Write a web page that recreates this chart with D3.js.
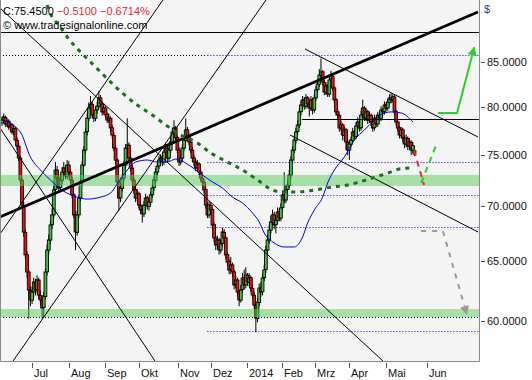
<!DOCTYPE html>
<html>
<head>
<meta charset="utf-8">
<script src="https://cdn.jsdelivr.net/npm/d3@7"></script>
<style>
  body { margin: 0; background: #fff; }
  svg { display: block; }
  text { font-family: "Liberation Sans", Arial, sans-serif; font-size: 11px; }
</style>
</head>
<body>
<svg id="chart" width="532" height="380"></svg>
<script>
// daily candles, bar index 0 .. 247 (Jun 2013 - May 2014)
const opens = [
  78.3,78.6,78.9,78.2,78.5,77.9,78.1,77.4,77.7,76.5, 75.9,74.7,72.5,70.1,67.6,65.6,64.1,62.5,61.7,62.4,
  63.2,62.6,63.4,62.1,61.7,61.1,62.0,64.1,66.0,66.9, 68.3,69.2,71.6,73.5,72.7,71.8,72.5,73.3,73.7,72.9,
  74.0,73.3,72.5,71.1,69.2,67.6,69.2,70.8,72.3,74.0, 75.5,77.4,78.8,79.9,80.3,79.2,78.8,79.7,80.1,81.0,
  80.3,79.5,79.9,79.2,78.6,78.8,77.8,77.0,75.7,74.5, 72.3,70.8,71.7,72.7,74.0,75.7,76.0,74.7,73.7,72.5,
  71.6,70.8,71.2,70.1,69.7,69.3,70.1,70.8,70.0,70.4, 71.1,71.8,72.5,73.3,73.9,74.5,74.7,74.3,75.3,75.7,
  74.7,75.5,76.3,77.4,77.8,76.8,75.5,74.3,74.7,75.7, 76.5,77.6,77.0,76.3,75.5,74.7,74.3,73.7,74.1,73.3,
  72.7,72.3,71.6,70.1,69.2,70.1,69.7,68.3,67.1,66.5, 66.9,66.0,66.6,67.6,67.1,65.6,65.0,64.3,64.7,64.1,
  63.0,63.4,62.4,61.7,62.6,63.6,63.0,63.8,63.2,63.6, 62.7,62.1,61.3,60.2,61.5,62.7,62.4,63.6,64.3,66.0,
  66.9,67.8,68.5,69.2,68.3,68.7,69.5,68.9,69.9,71.1, 70.6,71.6,72.0,73.0,74.5,75.5,76.5,77.4,78.1,79.5,
  80.2,80.8,80.1,81.0,80.3,79.9,80.8,79.7,81.0,81.9, 82.5,83.5,83.9,82.7,81.6,82.3,81.4,83.0,83.4,82.1,
  80.8,79.5,79.1,77.8,78.1,77.0,77.6,76.3,75.5,76.1, 76.5,77.4,76.9,78.0,78.4,77.8,79.2,79.9,78.8,79.5,
  78.6,79.1,78.4,77.8,78.8,78.2,79.1,78.8,79.7,79.5, 80.2,79.9,80.5,81.0,80.8,81.1,79.5,78.4,77.8,77.0,
  77.6,76.7,76.1,76.7,75.9,76.3,75.5,75.1
];
const highs = [
  79.0,79.3,79.1,78.8,78.7,78.4,78.3,78.0,77.9,76.8, 76.2,74.9,72.7,70.4,67.9,65.9,64.3,62.9,62.8,63.6,
  63.5,63.8,63.6,62.5,62.0,62.4,64.4,66.5,67.4,68.7, 69.8,72.0,74.3,73.9,73.0,73.0,73.8,74.3,74.0,74.5,
  74.4,73.6,72.8,71.3,69.5,69.6,71.1,72.7,74.4,75.9, 77.8,79.3,80.5,81.2,80.6,79.5,80.1,80.6,81.7,81.3,
  80.6,80.3,80.1,79.4,79.3,79.0,78.1,77.3,76.0,74.7, 72.6,72.1,73.1,74.4,76.1,78.8,76.3,75.0,74.0,72.8,
  71.9,71.6,71.4,70.4,70.0,70.5,71.2,71.0,70.8,71.4, 72.1,72.9,73.7,74.3,74.9,75.1,75.0,75.7,76.2,76.0,
  75.9,76.8,77.8,78.6,78.0,77.0,75.8,75.1,76.1,76.9, 78.8,77.9,77.2,76.6,75.8,75.0,74.6,74.5,74.3,73.6,
  73.0,72.6,71.8,70.4,70.5,70.4,69.9,68.5,67.3,67.3, 67.1,67.0,68.0,67.9,67.3,65.8,65.2,65.4,64.9,64.3,
  63.8,63.6,62.6,63.0,64.0,64.3,64.5,64.0,64.0,63.8, 63.0,62.4,61.5,61.9,63.1,63.2,64.0,64.7,66.4,67.4,
  68.3,69.1,69.7,69.5,69.2,69.9,69.8,70.3,71.5,73.3, 72.0,72.5,73.5,74.9,75.9,77.0,77.8,78.6,79.9,80.7,
  81.2,81.1,81.4,81.2,80.6,81.2,81.0,81.4,82.3,83.0, 84.2,85.4,84.1,83.0,82.7,82.5,83.4,84.0,83.6,82.3,
  81.0,79.8,79.3,78.5,78.3,77.9,77.8,76.6,76.5,76.9, 77.8,77.6,78.4,78.9,78.6,79.6,80.8,80.1,79.9,79.7,
  79.5,79.3,78.6,79.2,79.0,79.5,79.4,80.1,79.9,80.6, 80.5,80.9,81.4,81.5,81.4,81.3,79.7,78.6,78.0,77.9,
  77.8,77.0,77.1,76.9,76.7,76.5,76.3,75.9
];
const lows = [
  78.0,78.3,77.9,77.9,77.6,77.5,77.1,77.0,76.3,75.5, 74.4,72.2,69.8,67.2,65.2,63.6,60.2,61.2,61.4,62.0,
  62.1,62.3,61.8,61.3,60.2,60.3,61.8,63.8,65.6,66.5, 67.9,68.9,71.3,72.2,71.3,71.5,72.2,73.0,72.6,72.6,
  73.0,72.2,70.8,68.9,66.0,67.3,68.9,70.5,72.0,73.8, 75.2,77.0,78.5,79.6,78.8,78.4,78.5,79.3,79.8,80.0,
  79.1,79.2,78.8,78.3,78.3,77.4,76.7,75.4,74.1,72.0, 69.6,70.4,71.4,72.4,73.7,75.3,74.3,73.4,72.2,71.2,
  70.4,70.5,69.8,69.3,68.5,69.0,69.8,69.7,69.6,70.1, 70.8,71.5,72.2,73.0,73.6,74.1,73.9,74.0,75.0,74.3,
  74.4,75.2,76.0,77.0,76.4,75.2,73.9,74.0,74.4,75.4, 76.2,76.6,76.0,75.2,74.3,73.9,73.4,73.4,73.0,72.4,
  72.0,71.2,69.8,68.9,68.9,69.3,67.9,66.7,66.0,66.1, 65.6,65.7,66.3,66.7,65.2,64.6,63.9,63.9,63.7,62.6,
  62.7,62.0,61.2,61.5,62.3,62.6,62.7,62.9,62.9,62.4, 61.8,61.0,59.1,59.9,61.2,62.0,62.1,63.3,64.0,65.7,
  66.6,67.5,68.2,67.9,67.5,68.4,68.6,68.6,69.6,70.3, 70.3,71.2,71.7,72.7,74.2,75.2,76.2,77.0,77.8,79.1,
  79.9,79.7,79.8,80.0,79.0,79.6,79.2,79.4,80.7,81.6, 82.2,83.1,82.4,81.3,81.3,81.1,81.1,82.7,81.8,80.4,
  79.1,78.7,77.4,77.5,76.5,76.4,75.5,75.0,74.5,75.8, 76.2,76.6,76.6,77.7,77.4,77.5,78.9,78.5,78.5,78.2,
  78.3,78.0,77.4,77.5,77.9,77.9,78.5,78.5,79.1,79.2, 79.6,79.6,80.2,80.4,80.5,79.1,78.0,77.4,76.7,76.7,
  76.3,75.7,75.8,75.5,75.6,75.0,75.2,74.9
];
const closes = [
  78.62,78.94,78.20,78.52,77.89,78.10,77.36,77.68,76.54,75.92, 74.70,72.53,70.13,67.63,65.57,64.09,62.55,61.72,62.38,63.23,
  62.55,63.40,62.13,61.72,61.06,62.05,64.09,66.01,66.91,68.27, 69.20,71.56,73.51,72.73,71.75,72.53,73.31,73.71,72.92,74.00,
  73.31,72.53,71.08,69.20,67.63,69.20,70.79,72.34,74.00,75.51, 77.36,78.83,79.90,80.33,79.15,78.83,79.69,80.12,80.99,80.33,
  79.48,79.90,79.15,78.62,78.83,77.78,77.05,75.71,74.50,72.34, 70.79,71.75,72.73,74.00,75.71,76.03,74.70,73.71,72.53,71.56,
  70.79,71.18,70.13,69.66,69.29,70.13,70.79,70.04,70.41,71.08, 71.75,72.53,73.31,73.90,74.50,74.70,74.30,75.31,75.71,74.70,
  75.51,76.34,77.36,77.78,76.75,75.51,74.30,74.70,75.71,76.54, 77.57,76.95,76.34,75.51,74.70,74.30,73.71,74.10,73.31,72.73,
  72.34,71.56,70.13,69.20,70.13,69.66,68.27,67.09,66.46,66.91, 66.01,66.55,67.63,67.09,65.57,64.95,64.26,64.69,64.09,62.98,
  63.40,62.38,61.72,62.55,63.57,62.98,63.83,63.23,63.57,62.72, 62.13,61.30,60.24,61.55,62.72,62.38,63.57,64.26,66.01,66.91,
  67.81,68.55,69.20,68.27,68.73,69.47,68.91,69.85,71.08,70.60, 71.56,72.04,73.02,74.50,75.51,76.54,77.36,78.10,79.48,80.23,
  80.77,80.12,80.99,80.33,79.90,80.77,79.69,80.99,81.86,82.53, 83.53,83.86,82.75,81.64,82.31,81.42,82.97,83.42,82.08,80.77,
  79.48,79.15,77.78,78.10,77.05,77.57,76.34,75.51,76.13,76.54, 77.36,76.95,77.99,78.41,77.78,79.15,79.90,78.83,79.48,78.62,
  79.15,78.41,77.78,78.83,78.20,79.15,78.83,79.69,79.48,80.23, 79.90,80.55,80.99,80.77,81.10,79.48,78.41,77.78,77.05,77.57,
  76.75,76.13,76.75,75.92,76.34,75.51,75.96,75.45
];

// moving averages: [bar, price]
const fastAvg = [
  [0,78.62],[11,77.36],[17,74.80],[23,73.51],[29,72.53],[35,71.65],[43,70.98],[51,70.69],[59,70.88],
  [65,71.27],[69,72.14],[75,73.51],[80,74.30],[87,74.50],[93,74.30],[99,74.30],[104,74.60],[110,74.20],
  [116,73.51],[120,73.02],[126,72.34],[132,71.75],[138,70.88],[144,70.32],[150,69.38],[154,68.55],
  [157,67.54],[163,66.64],[169,66.28],[175,66.28],[180,67.18],[183,68.45],[187,69.66],[192,70.88],
  [195,72.24],[199,73.51],[205,74.80],[211,76.54],[217,77.57],[223,78.62],[229,79.37],[233,79.48],
  [239,79.37],[246,78.41]
];
const slowAvg = [
  [27,91.77],[30,90.31],[34,89.34],[40,87.67],[47,86.15],[56,84.43],[65,82.75],[72,81.53],[81,80.23],
  [90,79.15],[98,78.10],[107,77.05],[117,76.23],[125,75.21],[135,74.30],[144,73.51],[153,72.53],
  [162,71.56],[168,71.37],[177,71.37],[187,71.56],[198,71.85],[207,72.04],[214,72.34],[222,72.73],
  [231,73.21],[238,73.61],[244,73.71]
];

// drawing tools: [bar, price] end points
const mainTrend = [[-1.2,69.01],[285,90.92]];
const thinLines = [
  [[-1.2,77.78],[91.6,56.86]],
  [[-1.2,67.45],[96.4,92.40]],
  [[6.6,56.86],[158.1,92.40]],
  [[-1.2,91.40],[228.1,56.86]],
  [[181.4,86.50],[285,76.85]],
  [[172.5,77.05],[285,67.63]]
];
const solidLevels = [[88.50,-1.2],[78.72,179.6]];   // [price, start bar]
const fibLevels = [85.80,74.30,71.08,68.09,59.22];
const fibStart = 123;
const dottedLevels = [[85.80,-1.2],[60.32,-1.2]];
const zones = [[71.95,73.02],[60.32,60.97]];

// projections after the last bar
const redPath = [[246.7,75.50],[252.7,72.04]];
const upDashed = [[251,72.24],[260.5,76.23]];
const upSolid = [[261,79.37],[272.5,79.37],[282.8,86.70]];
const downPath = [[251,67.72],[264,67.72],[278.3,60.55]];

const monthLabels = ["Jul","Aug","Sep","Okt","Nov","Dez","2014","Feb","Mrz","Apr","Mai","Jun"];
const monthBars = [18.0,40.1,61.7,82.0,105.4,125.1,146.7,167.7,187.4,207.8,230.0,254.5];
const priceTicks = [60,65,70,75,80,85];

const lastClose = 75.45, change = -0.51, changePct = -0.6714;

const svg = d3.select("#chart");
const plotL = 1, plotR = 479, plotB = 361;
const x = d3.scaleLinear().domain([0, 247]).range([2, 414.5]);
const y = d3.scaleLog().domain([60, 85]).range([321, 62]);
const line = d3.line().x(d => x(d[0])).y(d => y(d[1]));

const defs = svg.append("defs");
defs.append("clipPath").attr("id", "clip")
  .append("rect").attr("x", plotL).attr("y", 0).attr("width", plotR - plotL).attr("height", plotB);
function arrow(id, color) {
  defs.append("marker").attr("id", id)
    .attr("viewBox", "0 0 10 10").attr("refX", 9).attr("refY", 5)
    .attr("markerUnits", "userSpaceOnUse").attr("markerWidth", 10).attr("markerHeight", 9)
    .attr("orient", "auto")
    .append("path").attr("d", "M0,0L10,5L0,10z").attr("fill", color);
}
arrow("arrUp", "#33cc33");
arrow("arrDown", "#999999");

svg.append("rect").attr("x", plotL).attr("y", 0).attr("width", plotR - plotL).attr("height", plotB)
  .attr("fill", "#f4f4f4");
svg.append("rect").attr("x", 1).attr("y", 0).attr("width", 149).attr("height", 31).attr("fill", "#fff");

const g = svg.append("g").attr("clip-path", "url(#clip)");

// dotted levels
g.selectAll("line.fib").data(fibLevels).join("line")
  .attr("x1", x(fibStart)).attr("x2", plotR)
  .attr("y1", d => Math.round(y(d)) + 0.5).attr("y2", d => Math.round(y(d)) + 0.5)
  .attr("stroke", "#0000ff").attr("stroke-dasharray", "1,2");
g.selectAll("line.dot").data(dottedLevels).join("line")
  .attr("x1", d => x(d[1])).attr("x2", d => d[0] > 80 ? x(fibStart) : plotR)
  .attr("y1", d => Math.round(y(d[0])) + 0.5).attr("y2", d => Math.round(y(d[0])) + 0.5)
  .attr("stroke", "#000").attr("stroke-dasharray", "1,2");

// candles
const bars = closes.map((c, i) => ({ i, o: opens[i], h: highs[i], l: lows[i], c }));
const cg = g.append("g");
cg.selectAll("line").data(bars).join("line")
  .attr("x1", d => x(d.i)).attr("x2", d => x(d.i))
  .attr("y1", d => y(d.h)).attr("y2", d => y(d.l))
  .attr("stroke", "#000").attr("stroke-width", 1);
cg.selectAll("rect").data(bars).join("rect")
  .attr("x", d => x(d.i) - 1.4).attr("width", 2.8)
  .attr("y", d => y(Math.max(d.o, d.c)))
  .attr("height", d => Math.max(1, y(Math.min(d.o, d.c)) - y(Math.max(d.o, d.c))))
  .attr("fill", d => d.c >= d.o ? "#3ec43e" : "#f01010")
  .attr("stroke", "#000").attr("stroke-width", 0.9);

// zones
g.selectAll("rect.zone").data(zones).join("rect")
  .attr("x", plotL).attr("width", plotR - plotL)
  .attr("y", d => y(d[1])).attr("height", d => y(d[0]) - y(d[1]))
  .attr("fill", "#5cc85c").attr("fill-opacity", 0.5);

// averages
g.append("path").datum(fastAvg).attr("d", line.curve(d3.curveMonotoneX))
  .attr("fill", "none").attr("stroke", "#0000ee").attr("stroke-width", 1);
line.curve(d3.curveLinear);

// drawing tools
g.selectAll("line.thin").data(thinLines).join("line")
  .attr("x1", d => x(d[0][0])).attr("y1", d => y(d[0][1]))
  .attr("x2", d => x(d[1][0])).attr("y2", d => y(d[1][1]))
  .attr("stroke", "#000").attr("stroke-width", 1);
g.selectAll("line.solid").data(solidLevels).join("line")
  .attr("x1", d => x(d[1])).attr("x2", plotR)
  .attr("y1", d => Math.round(y(d[0])) + 0.5).attr("y2", d => Math.round(y(d[0])) + 0.5)
  .attr("stroke", "#000").attr("stroke-width", 1);
g.append("path").attr("d", line(mainTrend))
  .attr("stroke", "#000").attr("stroke-width", 2.8).attr("fill", "none");

g.append("path").datum(slowAvg).attr("d", line.curve(d3.curveMonotoneX))
  .attr("fill", "none").attr("stroke", "#1d6e1d").attr("stroke-width", 3)
  .attr("stroke-dasharray", "4,5");
line.curve(d3.curveLinear);

// projections
g.append("path").attr("d", line(redPath)).attr("fill", "none")
  .attr("stroke", "#ff2020").attr("stroke-width", 2).attr("stroke-dasharray", "6,5");
g.append("path").attr("d", line(upDashed)).attr("fill", "none")
  .attr("stroke", "#33cc33").attr("stroke-width", 2).attr("stroke-dasharray", "6,5");
g.append("path").attr("d", line(upSolid)).attr("fill", "none")
  .attr("stroke", "#33cc33").attr("stroke-width", 2).attr("marker-end", "url(#arrUp)");
g.append("path").attr("d", line(downPath)).attr("fill", "none")
  .attr("stroke", "#999999").attr("stroke-width", 2).attr("stroke-dasharray", "5,6")
  .attr("marker-end", "url(#arrDown)");

// frame
svg.append("path").attr("d", `M0.5,0V${plotB + 0.5}H${plotR + 0.5}V0`)
  .attr("fill", "none").attr("stroke", "#8a8a8a");

// right axis
const ra = svg.append("g");
ra.selectAll("line").data(priceTicks).join("line")
  .attr("x1", plotR + 2).attr("x2", plotR + 6)
  .attr("y1", d => Math.round(y(d)) + 0.5).attr("y2", d => Math.round(y(d)) + 0.5)
  .attr("stroke", "#555");
ra.selectAll("text").data(priceTicks).join("text")
  .attr("x", plotR + 8).attr("y", d => y(d)).attr("dy", "0.36em")
  .attr("fill", "#111").text(d3.format(".4f"));
svg.append("text").attr("x", 484).attr("y", 13).attr("fill", "#1d3f8a").text("$");

// month axis
const ba = svg.append("g");
ba.selectAll("line").data(monthBars).join("line")
  .attr("x1", d => Math.round(x(d)) + 0.5).attr("x2", d => Math.round(x(d)) + 0.5)
  .attr("y1", plotB + 2).attr("y2", plotB + 7).attr("stroke", "#555");
ba.selectAll("text").data(monthLabels).join("text")
  .attr("x", (d, i) => Math.round(x(monthBars[i])) + 2).attr("y", 377)
  .attr("fill", "#111").text(d => d);

// header
const fmt = d3.format(".4f");
const ht = svg.append("text").attr("x", 3).attr("y", 15).attr("fill", "#000");
ht.append("tspan").text("C:" + fmt(lastClose) + " ");
ht.append("tspan").attr("fill", "#ee2233").text(fmt(change) + " " + fmt(changePct) + "%");
svg.append("text").attr("x", 3).attr("y", 29).attr("fill", "#000").text("\u00a9 www.tradesignalonline.com");
</script>
</body>
</html>
